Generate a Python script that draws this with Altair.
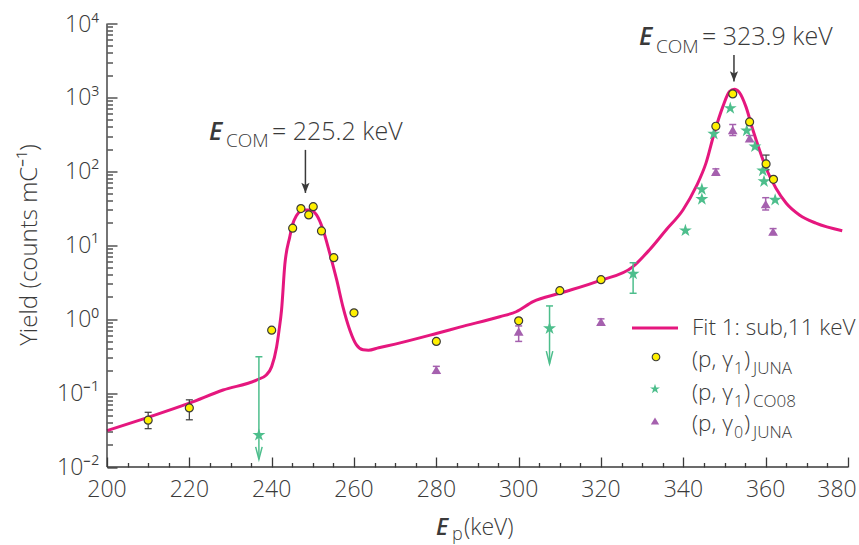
import altair as alt
import pandas as pd

# ---------------- data ----------------
# Fit 1 (sub, 11 keV), sampled along the curve
fit_ep = [200, 210, 220, 228.2, 236.3, 238.7, 240.0, 241.2, 241.8, 242.4,
          243.2, 244.4, 245.0, 246.0, 247.0, 248.1, 249.3, 250.9, 252.5, 254.1,
          255.8, 257.3, 259.0, 260.6, 262.2, 263.5, 266.0, 270.0, 280.0, 285.7,
          295.4, 299.4, 303.5, 310.0, 319.7, 327.7, 331.8, 335.8, 339.9, 343.1,
          345.5, 347.5, 349.6, 351.2, 352.4, 353.6, 355.2, 356.9, 358.5, 360.1,
          362.5, 365.0, 368.2, 372.2, 378.6]
fit_yield = [0.031, 0.047, 0.073, 0.110, 0.150, 0.176, 0.228, 0.42, 0.71, 1.33,
             5.5, 13.0, 18.5, 25.0, 28.8, 30.0, 30.0, 25.7, 16.1, 7.8,
             3.39, 1.48, 0.71, 0.448, 0.385, 0.38, 0.41, 0.46, 0.64, 0.78,
             1.08, 1.26, 1.73, 2.24, 3.32, 5.1, 8.7, 16.1, 30.0, 62.0,
             129.0, 328.0, 751.0, 1199.0, 1291.0, 1170.0, 751.0, 363.0, 195.0, 110.0,
             59.0, 37.0, 25.7, 19.9, 15.7]

# (p, gamma1) JUNA
juna1_ep = [210, 220, 240, 245.1, 247.1, 249.0, 250.1, 252.1, 255.1, 260,
            280, 300, 310, 320, 347.9, 352.0, 356.1, 360.1, 361.9]
juna1_yield = [0.043, 0.063, 0.71, 17.0, 31.3, 25.7, 33.3, 15.6, 6.8, 1.22,
               0.50, 0.95, 2.43, 3.42, 407, 1115, 466, 126, 78]
juna1_err_ep = [210, 220, 360.1]
juna1_err_lo = [0.033, 0.0435, 105]
juna1_err_hi = [0.055, 0.081, 166]

# (p, gamma1) CO08
co08_ep = [236.9, 307.5, 327.8, 340.5, 344.5, 344.5, 347.4, 351.4, 355.4,
           357.4, 359.3, 359.6, 362.3]
co08_yield = [0.027, 0.75, 4.1, 15.8, 57, 42, 321, 714, 355, 216, 102, 73, 41]
co08_err_ep = [236.9, 307.5, 327.8]
co08_err_lo = [0.0127, 0.25, 2.24]
co08_err_hi = [0.31, 1.51, 5.8]
co08_upper_limit = [True, True, False]

# (p, gamma0) JUNA
juna0_ep = [280, 300, 320, 347.9, 352.0, 356.1, 360.0, 361.8]
juna0_yield = [0.206, 0.68, 0.92, 99, 363, 281, 36, 15.3]
juna0_lo = [0.185, 0.50, 0.84, 91, 305, 258, 30, 14.0]
juna0_hi = [0.230, 0.81, 1.01, 108, 430, 305, 44, 16.8]

# resonance annotations: arrow position (keV) and arrow span (yield)
res_ep = [248.2, 352.3]
res_arrow_top = [195, 3760]
res_arrow_tip = [51, 1637]
res_labels = ["= 225.2 keV", "= 323.9 keV"]

# axes
x_domain = [200, 380]
y_domain = [0.01, 10000]
x_major = list(range(200, 381, 20))
x_minor = [v for v in range(205, 380, 5) if v % 20]
y_major = [0.01, 0.1, 1, 10, 100, 1000, 10000]
y_major_labels = ["10⁻²", "10⁻¹", "10⁰", "10¹", "10²", "10³", "10⁴"]
y_minor = [m * 10.0 ** k for k in range(-2, 4) for m in range(2, 10)]

# ---------------- style ----------------
FONT = "Open Sans"
INK = "#3a3a3a"
MAGENTA = "#E5177E"
YELLOW = "#FFF000"
GREEN = "#4DBE8C"
PURPLE = "#A560AE"
LEFT, TOP, W, H = 107, 23.5, 741, 443.5

STAR = ("M0,-1L0.2245,-0.309L0.951,-0.309L0.363,0.118L0.588,0.809L0,0.382"
        "L-0.588,0.809L-0.363,0.118L-0.951,-0.309L-0.2245,-0.309Z")
OPEN_HEAD = "M-0.26,-1L0,0L0.26,-1"
FILLED_HEAD = "M0,0L-0.4,-1L0,-0.78L0.4,-1Z"

xs = alt.Scale(domain=x_domain, nice=False, zero=False)
ys = alt.Scale(type="log", domain=y_domain, nice=False)


def X(field, axis=None):
    return alt.X(field, type="quantitative", scale=xs, axis=axis)


def Y(field, axis=None):
    return alt.Y(field, type="quantitative", scale=ys, axis=axis)


# inward ticks: grid lines dashed so that only a short stub next to the axis line shows
def tick_axis(orient, values, length):
    return alt.Axis(orient=orient, values=values, grid=True, gridDash=[length, 3000],
                    gridColor=INK, gridWidth=1.3, gridOpacity=1, labels=False, ticks=False,
                    domain=False, title=None)


fit_df = pd.DataFrame({"ep": fit_ep, "y": fit_yield})
j1_df = pd.DataFrame({"ep": juna1_ep, "y": juna1_yield})
j1e_df = pd.DataFrame({"ep": juna1_err_ep, "lo": juna1_err_lo, "hi": juna1_err_hi})
co_df = pd.DataFrame({"ep": co08_ep, "y": co08_yield})
coe_df = pd.DataFrame({"ep": co08_err_ep, "lo": co08_err_lo, "hi": co08_err_hi,
                       "limit": co08_upper_limit})
j0_df = pd.DataFrame({"ep": juna0_ep, "y": juna0_yield, "lo": juna0_lo, "hi": juna0_hi})
res_df = pd.DataFrame({"ep": res_ep, "top": res_arrow_top, "tip": res_arrow_tip})
one = pd.DataFrame({"k": [0]})

# ---------------- axis lines and labels ----------------
frame = [
    alt.Chart(one).mark_rule(color=INK, strokeWidth=1.4).encode(
        x=alt.value(0), x2=alt.value(W), y=alt.value(H)),
    alt.Chart(one).mark_rule(color=INK, strokeWidth=1.4).encode(
        x=alt.value(0), y=alt.value(0), y2=alt.value(H)),
]

label_style = dict(font=FONT, fontSize=23, fontWeight=300, color=INK)
x_labels = alt.Chart(pd.DataFrame({"lab_ep": x_major[:-1], "lab_base": y_domain[0]})).mark_text(
    align="center", baseline="top", dy=12, **label_style).encode(
    x=X("lab_ep"), y=Y("lab_base"), text="lab_ep:N")
# the last label sits a little inward of its tick
x_label_last = alt.Chart(pd.DataFrame({"lab_ep": x_major[-1:], "lab_base": y_domain[0]})).mark_text(
    align="center", baseline="top", dy=12, dx=-11, **label_style).encode(
    x=X("lab_ep"), y=Y("lab_base"), text="lab_ep:N")
y_labels = alt.Chart(pd.DataFrame({"lab_yield": y_major, "lab_text": y_major_labels,
                                   "lab_base": x_domain[0]})).mark_text(
    align="right", baseline="middle", dx=-8, dy=1, **label_style).encode(
    y=Y("lab_yield"), x=X("lab_base"), text="lab_text:N")

# ---------------- marks ----------------
# the fit carries the major inward ticks, the JUNA circles the minor ones
fit = alt.Chart(fit_df).mark_line(color=MAGENTA, strokeWidth=3, interpolate="monotone").encode(
    x=X("ep", tick_axis("top", x_major, 10)), y=Y("y", tick_axis("left", y_major, 10)))


def bar_rule(df, color, width):
    return alt.Chart(df).mark_rule(color=color, strokeWidth=width).encode(
        x=X("ep"), y=Y("lo"), y2="hi")


def cap(df, field, color, width):
    return alt.Chart(df).mark_point(shape="stroke", size=49, color=color, strokeWidth=width,
                                    opacity=1).encode(x=X("ep"), y=Y(field))


j1_bars = [bar_rule(j1e_df, INK, 1.2), cap(j1e_df, "hi", INK, 1.2), cap(j1e_df, "lo", INK, 1.2)]
co_bars = [bar_rule(coe_df, GREEN, 1.5), cap(coe_df, "hi", GREEN, 1.5),
           cap(coe_df, "lo", GREEN, 1.5).transform_filter("!datum.limit"),
           alt.Chart(coe_df).transform_filter("datum.limit").mark_point(
               shape=OPEN_HEAD, size=625, color=GREEN, strokeWidth=1.5, opacity=1,
               filled=False).encode(x=X("ep"), y=Y("lo"))]
j0_bars = [bar_rule(j0_df, PURPLE, 1.5), cap(j0_df, "hi", PURPLE, 1.5),
           cap(j0_df, "lo", PURPLE, 1.5)]

tri = alt.Chart(j0_df).mark_point(shape="triangle-up", filled=True, color=PURPLE, size=95,
                                  opacity=1).encode(x=X("ep"), y=Y("y"))
star = alt.Chart(co_df).mark_point(shape=STAR, filled=True, color=GREEN, size=185,
                                   opacity=1).encode(x=X("ep"), y=Y("y"))
circ = alt.Chart(j1_df).mark_circle(size=64, fill=YELLOW, stroke=INK, strokeWidth=1.2,
                                    opacity=1).encode(
    x=X("ep", tick_axis("top", x_minor, 4.5)), y=Y("y", tick_axis("left", y_minor, 5.5)))

arrow_rule = alt.Chart(res_df).mark_rule(color=INK, strokeWidth=1.5).encode(
    x=X("ep"), y=Y("top"), y2="tip")
arrow_head = alt.Chart(res_df).mark_point(shape=FILLED_HEAD, size=420, filled=True,
                                          color=INK, opacity=1).encode(x=X("ep"), y=Y("tip"))


# ---------------- text ----------------
def txt(s, gx, gy, size, italic=False, weight=300, align="left", angle=0):
    props = dict(font=FONT, fontSize=size, color=INK, align=align, baseline="alphabetic",
                 fontWeight=weight, fontStyle="italic" if italic else "normal")
    if angle:
        props.update(angle=angle, baseline="middle")
    return alt.Chart(pd.DataFrame({"s": [s]})).mark_text(**props).encode(
        text="s:N", x=alt.value(gx - LEFT), y=alt.value(gy - TOP))


texts = []
for (ex, by), lab in zip([(209, 139.5), (639, 45)], res_labels):
    texts += [txt("E", ex, by, 25, italic=True, weight=600),
              txt("COM", ex + 17, by + 7.5, 19),
              txt(lab, ex + 63, by, 25)]

texts += [txt("Yield (counts mC⁻¹)", 30, 245, 24, align="center", angle=270),
          txt("E", 436, 535, 23, italic=True, weight=600),
          txt("p", 452, 540, 18),
          txt("(keV)", 464, 535, 23)]

texts.append(txt("Fit 1: sub,11 keV", 692, 335, 22.5))
for base, sub, tag in [(367, "1", "JUNA"), (399.5, "1", "CO08"), (431, "0", "JUNA")]:
    texts += [txt("(p, γ", 692, base, 22.5), txt(sub, 734, base + 7, 16),
              txt(")", 744, base, 22.5), txt(tag, 753, base + 7, 17)]

legend = [
    alt.Chart(one).mark_rule(color=MAGENTA, strokeWidth=3).encode(
        x=alt.value(632 - LEFT), x2=alt.value(678 - LEFT), y=alt.value(328 - TOP)),
    alt.Chart(one).mark_circle(size=58, fill=YELLOW, stroke=INK, strokeWidth=1.1,
                               opacity=1).encode(x=alt.value(656 - LEFT), y=alt.value(357 - TOP)),
    alt.Chart(one).mark_point(shape=STAR, filled=True, color=GREEN, size=110,
                              opacity=1).encode(x=alt.value(655 - LEFT), y=alt.value(389 - TOP)),
    alt.Chart(one).mark_point(shape="triangle-up", filled=True, color=PURPLE, size=70,
                              opacity=1).encode(x=alt.value(655 - LEFT), y=alt.value(421 - TOP)),
]

chart = alt.layer(
    fit, *frame, x_labels, x_label_last, y_labels,
    *co_bars, *j0_bars, *j1_bars, tri, star, circ,
    arrow_rule, arrow_head, *legend, *texts
).resolve_axis(x="independent", y="independent").properties(
    width=W, height=H, autosize="none",
    padding={"left": LEFT, "top": TOP, "right": 859 - LEFT - W, "bottom": 545 - TOP - H},
    background="white"
).configure_view(stroke=None)

chart.save("out.html", embed_options={"renderer": "svg", "actions": False})
